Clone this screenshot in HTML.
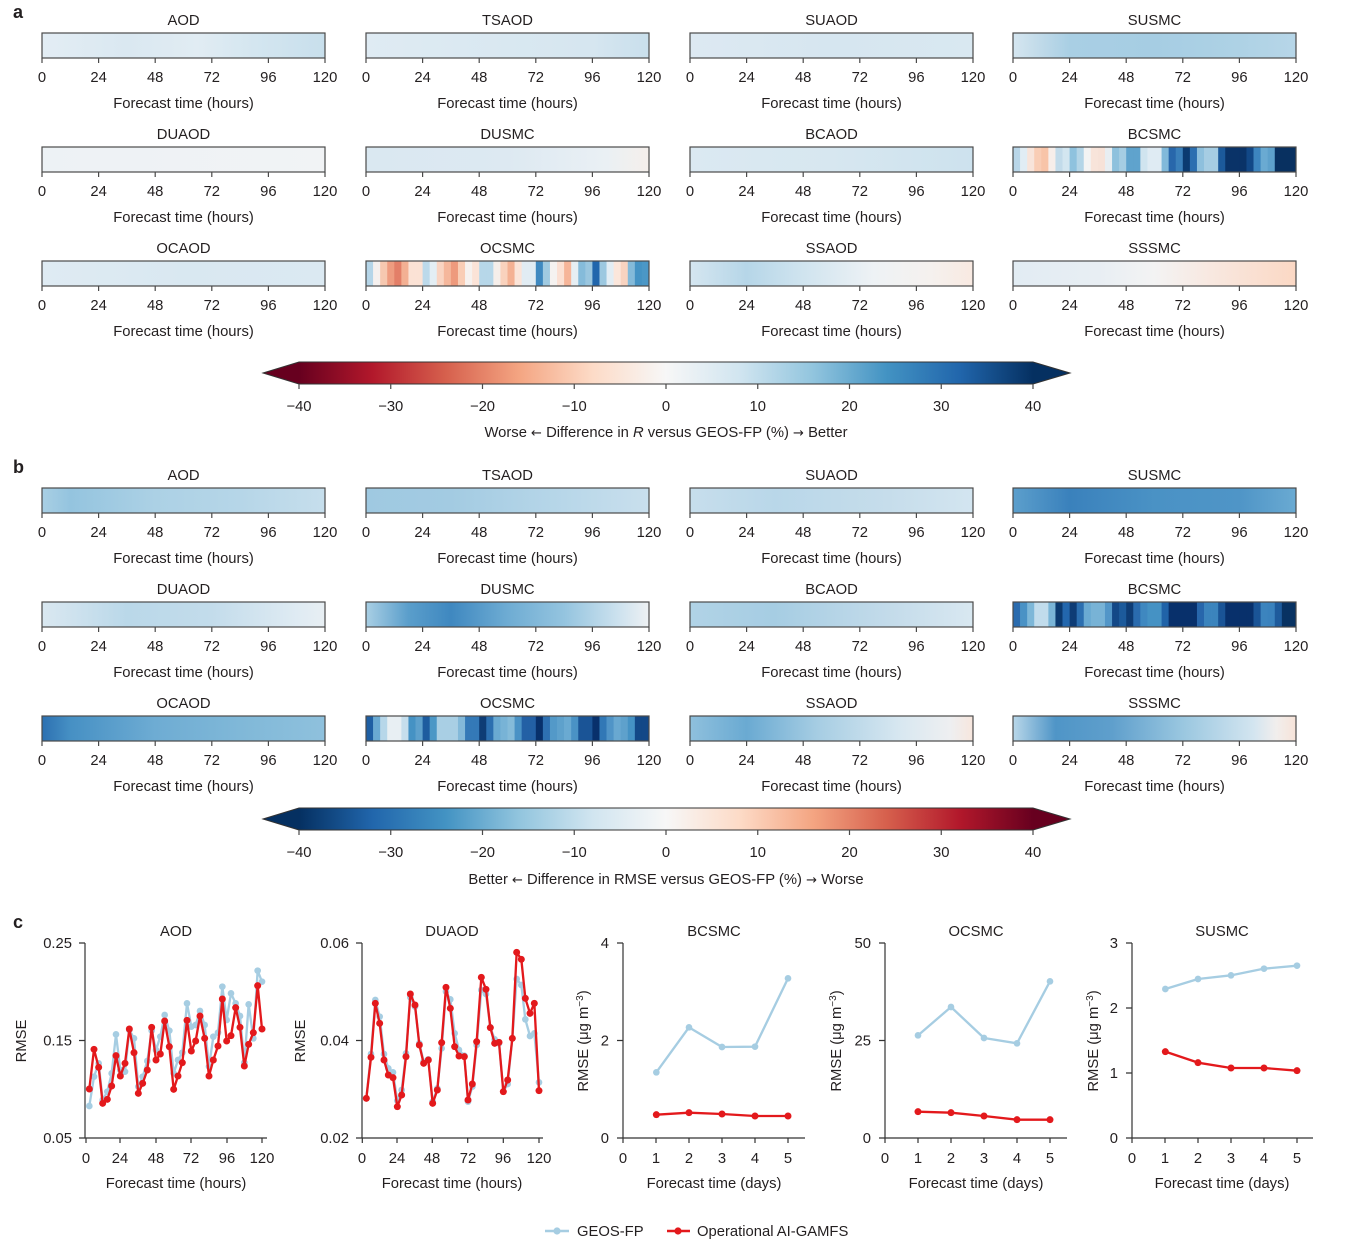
<!DOCTYPE html>
<html><head><meta charset="utf-8"><title>AI-GAMFS evaluation</title>
<style>
html,body{margin:0;padding:0;background:#fff;}
svg{display:block;}
text{font-family:"Liberation Sans",Arial,sans-serif;font-size:14.8px;fill:#231f20;}
.m{text-anchor:middle;}
.e{text-anchor:end;}
.ar{font-family:"DejaVu Sans",sans-serif;font-size:13px;}
.bx{fill:none;stroke:#4a4a4a;stroke-width:1.2;}
.tk{stroke:#4a4a4a;stroke-width:1.2;fill:none;}
.ax{stroke:#333;stroke-width:1.2;fill:none;}
.pl{font-weight:bold;font-size:18px;}
</style></head>
<body>
<svg width="1349" height="1253" viewBox="0 0 1349 1253" xmlns="http://www.w3.org/2000/svg">
<defs>
<linearGradient id="aAOD"><stop offset="0" stop-color="#e3edf4"/><stop offset="0.3" stop-color="#dae8f1"/><stop offset="0.55" stop-color="#e1ecf3"/><stop offset="0.75" stop-color="#d4e6f0"/><stop offset="1" stop-color="#c8dfec"/></linearGradient>
<linearGradient id="aTSAOD"><stop offset="0" stop-color="#dfebf3"/><stop offset="0.5" stop-color="#d9e8f1"/><stop offset="0.8" stop-color="#d6e6f0"/><stop offset="1" stop-color="#c9dfec"/></linearGradient>
<linearGradient id="aSUAOD"><stop offset="0" stop-color="#dde9f2"/><stop offset="0.5" stop-color="#d6e6f0"/><stop offset="1" stop-color="#d9e8f1"/></linearGradient>
<linearGradient id="aSUSMC"><stop offset="0" stop-color="#d5e6f0"/><stop offset="0.08" stop-color="#c4dcea"/><stop offset="0.2" stop-color="#a9cfe4"/><stop offset="0.5" stop-color="#a6cde3"/><stop offset="0.8" stop-color="#aed2e5"/><stop offset="1" stop-color="#b7d6e8"/></linearGradient>
<linearGradient id="aDUAOD"><stop offset="0" stop-color="#edf2f5"/><stop offset="1" stop-color="#f1f3f5"/></linearGradient>
<linearGradient id="aDUSMC"><stop offset="0" stop-color="#dae8f1"/><stop offset="0.5" stop-color="#dde9f2"/><stop offset="0.85" stop-color="#eaf0f4"/><stop offset="1" stop-color="#f5efeb"/></linearGradient>
<linearGradient id="aBCAOD"><stop offset="0" stop-color="#dbe9f2"/><stop offset="0.5" stop-color="#d7e7f0"/><stop offset="1" stop-color="#cde2ee"/></linearGradient>
<linearGradient id="aOCAOD"><stop offset="0" stop-color="#dfebf3"/><stop offset="0.5" stop-color="#d9e8f1"/><stop offset="1" stop-color="#dbe9f2"/></linearGradient>
<linearGradient id="aSSAOD"><stop offset="0" stop-color="#d5e6f0"/><stop offset="0.2" stop-color="#b6d6e8"/><stop offset="0.4" stop-color="#d0e4ef"/><stop offset="0.65" stop-color="#eef2f5"/><stop offset="0.85" stop-color="#f5f1ee"/><stop offset="1" stop-color="#f8e9e1"/></linearGradient>
<linearGradient id="aSSSMC"><stop offset="0" stop-color="#e2ecf3"/><stop offset="0.3" stop-color="#e8eef3"/><stop offset="0.5" stop-color="#f3f3f3"/><stop offset="0.7" stop-color="#f8e8e0"/><stop offset="1" stop-color="#fbd8c4"/></linearGradient>

<linearGradient id="bAOD"><stop offset="0" stop-color="#a9cfe4"/><stop offset="0.1" stop-color="#94c4df"/><stop offset="0.4" stop-color="#acd1e5"/><stop offset="0.7" stop-color="#b6d6e8"/><stop offset="1" stop-color="#c6deec"/></linearGradient>
<linearGradient id="bTSAOD"><stop offset="0" stop-color="#9fc9e1"/><stop offset="0.3" stop-color="#a3cbe2"/><stop offset="0.7" stop-color="#b8d7e9"/><stop offset="1" stop-color="#c9dfed"/></linearGradient>
<linearGradient id="bSUAOD"><stop offset="0" stop-color="#c7deec"/><stop offset="0.3" stop-color="#b9d7e9"/><stop offset="0.7" stop-color="#c6ddeb"/><stop offset="1" stop-color="#d3e5f0"/></linearGradient>
<linearGradient id="bSUSMC"><stop offset="0" stop-color="#5c9fcc"/><stop offset="0.2" stop-color="#3a81bc"/><stop offset="0.5" stop-color="#4a92c5"/><stop offset="0.8" stop-color="#4f95c7"/><stop offset="1" stop-color="#6aaad2"/></linearGradient>
<linearGradient id="bDUAOD"><stop offset="0" stop-color="#dae8f1"/><stop offset="0.3" stop-color="#bad8e9"/><stop offset="0.6" stop-color="#c3dceb"/><stop offset="0.9" stop-color="#dfebf3"/><stop offset="1" stop-color="#e8eff3"/></linearGradient>
<linearGradient id="bDUSMC"><stop offset="0" stop-color="#a9cfe4"/><stop offset="0.15" stop-color="#5a9ecb"/><stop offset="0.3" stop-color="#3f88c0"/><stop offset="0.5" stop-color="#6eacd3"/><stop offset="0.7" stop-color="#94c4df"/><stop offset="0.9" stop-color="#cfe3ef"/><stop offset="1" stop-color="#eef1f3"/></linearGradient>
<linearGradient id="bBCAOD"><stop offset="0" stop-color="#b1d3e6"/><stop offset="0.3" stop-color="#a6cde3"/><stop offset="0.7" stop-color="#c3dbea"/><stop offset="1" stop-color="#d9e8f1"/></linearGradient>
<linearGradient id="bOCAOD"><stop offset="0" stop-color="#2c70b1"/><stop offset="0.1" stop-color="#4690c4"/><stop offset="0.4" stop-color="#6eacd3"/><stop offset="0.7" stop-color="#80b8d8"/><stop offset="1" stop-color="#8fc1dd"/></linearGradient>
<linearGradient id="bSSAOD"><stop offset="0" stop-color="#8fc0dd"/><stop offset="0.2" stop-color="#6aaad2"/><stop offset="0.45" stop-color="#a6cde3"/><stop offset="0.75" stop-color="#d9e8f1"/><stop offset="0.92" stop-color="#eeeff1"/><stop offset="1" stop-color="#f7e6dd"/></linearGradient>
<linearGradient id="bSSSMC"><stop offset="0" stop-color="#b9d7e9"/><stop offset="0.15" stop-color="#4f95c7"/><stop offset="0.35" stop-color="#5f9fcc"/><stop offset="0.6" stop-color="#9ac7e0"/><stop offset="0.85" stop-color="#d3e5f0"/><stop offset="0.93" stop-color="#f1eeed"/><stop offset="1" stop-color="#f7e3d8"/></linearGradient>

<linearGradient id="cbA" gradientUnits="userSpaceOnUse" x1="299" y1="0" x2="1033" y2="0">
<stop offset="0" stop-color="#67001f"/><stop offset="0.1" stop-color="#b2182b"/><stop offset="0.2" stop-color="#d6604d"/><stop offset="0.3" stop-color="#f4a582"/><stop offset="0.4" stop-color="#fddbc7"/><stop offset="0.5" stop-color="#f7f7f7"/><stop offset="0.6" stop-color="#d1e5f0"/><stop offset="0.7" stop-color="#92c5de"/><stop offset="0.8" stop-color="#4393c3"/><stop offset="0.9" stop-color="#2166ac"/><stop offset="1" stop-color="#053061"/></linearGradient>
<linearGradient id="cbB" gradientUnits="userSpaceOnUse" x1="299" y1="0" x2="1033" y2="0">
<stop offset="0" stop-color="#053061"/><stop offset="0.1" stop-color="#2166ac"/><stop offset="0.2" stop-color="#4393c3"/><stop offset="0.3" stop-color="#92c5de"/><stop offset="0.4" stop-color="#d1e5f0"/><stop offset="0.5" stop-color="#f7f7f7"/><stop offset="0.6" stop-color="#fddbc7"/><stop offset="0.7" stop-color="#f4a582"/><stop offset="0.8" stop-color="#d6604d"/><stop offset="0.9" stop-color="#b2182b"/><stop offset="1" stop-color="#67001f"/></linearGradient>
</defs>

<rect width="1349" height="1253" fill="#fff"/>

<text x="13" y="18" class="pl">a</text>
<text x="13" y="473" class="pl">b</text>
<text x="13" y="928" class="pl">c</text>

<!-- ============ PANEL A ============ -->
<g transform="translate(42,33)"><rect width="283" height="25" fill="url(#aAOD)"/><rect width="283" height="25" class="bx"/><path class="tk" d="M0 25v5M56.6 25v5M113.2 25v5M169.8 25v5M226.4 25v5M283 25v5"/><text x="141.5" y="-8" class="m">AOD</text><text y="49" class="m"><tspan x="0">0</tspan><tspan x="56.6">24</tspan><tspan x="113.2">48</tspan><tspan x="169.8">72</tspan><tspan x="226.4">96</tspan><tspan x="283">120</tspan></text><text x="141.5" y="75" class="m">Forecast time (hours)</text></g>
<g transform="translate(366,33)"><rect width="283" height="25" fill="url(#aTSAOD)"/><rect width="283" height="25" class="bx"/><path class="tk" d="M0 25v5M56.6 25v5M113.2 25v5M169.8 25v5M226.4 25v5M283 25v5"/><text x="141.5" y="-8" class="m">TSAOD</text><text y="49" class="m"><tspan x="0">0</tspan><tspan x="56.6">24</tspan><tspan x="113.2">48</tspan><tspan x="169.8">72</tspan><tspan x="226.4">96</tspan><tspan x="283">120</tspan></text><text x="141.5" y="75" class="m">Forecast time (hours)</text></g>
<g transform="translate(690,33)"><rect width="283" height="25" fill="url(#aSUAOD)"/><rect width="283" height="25" class="bx"/><path class="tk" d="M0 25v5M56.6 25v5M113.2 25v5M169.8 25v5M226.4 25v5M283 25v5"/><text x="141.5" y="-8" class="m">SUAOD</text><text y="49" class="m"><tspan x="0">0</tspan><tspan x="56.6">24</tspan><tspan x="113.2">48</tspan><tspan x="169.8">72</tspan><tspan x="226.4">96</tspan><tspan x="283">120</tspan></text><text x="141.5" y="75" class="m">Forecast time (hours)</text></g>
<g transform="translate(1013,33)"><rect width="283" height="25" fill="url(#aSUSMC)"/><rect width="283" height="25" class="bx"/><path class="tk" d="M0 25v5M56.6 25v5M113.2 25v5M169.8 25v5M226.4 25v5M283 25v5"/><text x="141.5" y="-8" class="m">SUSMC</text><text y="49" class="m"><tspan x="0">0</tspan><tspan x="56.6">24</tspan><tspan x="113.2">48</tspan><tspan x="169.8">72</tspan><tspan x="226.4">96</tspan><tspan x="283">120</tspan></text><text x="141.5" y="75" class="m">Forecast time (hours)</text></g>

<g transform="translate(42,147)"><rect width="283" height="25" fill="url(#aDUAOD)"/><rect width="283" height="25" class="bx"/><path class="tk" d="M0 25v5M56.6 25v5M113.2 25v5M169.8 25v5M226.4 25v5M283 25v5"/><text x="141.5" y="-8" class="m">DUAOD</text><text y="49" class="m"><tspan x="0">0</tspan><tspan x="56.6">24</tspan><tspan x="113.2">48</tspan><tspan x="169.8">72</tspan><tspan x="226.4">96</tspan><tspan x="283">120</tspan></text><text x="141.5" y="75" class="m">Forecast time (hours)</text></g>
<g transform="translate(366,147)"><rect width="283" height="25" fill="url(#aDUSMC)"/><rect width="283" height="25" class="bx"/><path class="tk" d="M0 25v5M56.6 25v5M113.2 25v5M169.8 25v5M226.4 25v5M283 25v5"/><text x="141.5" y="-8" class="m">DUSMC</text><text y="49" class="m"><tspan x="0">0</tspan><tspan x="56.6">24</tspan><tspan x="113.2">48</tspan><tspan x="169.8">72</tspan><tspan x="226.4">96</tspan><tspan x="283">120</tspan></text><text x="141.5" y="75" class="m">Forecast time (hours)</text></g>
<g transform="translate(690,147)"><rect width="283" height="25" fill="url(#aBCAOD)"/><rect width="283" height="25" class="bx"/><path class="tk" d="M0 25v5M56.6 25v5M113.2 25v5M169.8 25v5M226.4 25v5M283 25v5"/><text x="141.5" y="-8" class="m">BCAOD</text><text y="49" class="m"><tspan x="0">0</tspan><tspan x="56.6">24</tspan><tspan x="113.2">48</tspan><tspan x="169.8">72</tspan><tspan x="226.4">96</tspan><tspan x="283">120</tspan></text><text x="141.5" y="75" class="m">Forecast time (hours)</text></g>
<g transform="translate(1013,147)">
<g transform="scale(7.075,1)">
<rect x="0" width="1.05" height="25" fill="#b9d6e8"/><rect x="1" width="1.05" height="25" fill="#e1edf4"/><rect x="2" width="1.05" height="25" fill="#f8e4da"/><rect x="3" width="1.05" height="25" fill="#f9cdb5"/><rect x="4" width="1.05" height="25" fill="#f8c4a8"/><rect x="5" width="1.05" height="25" fill="#f7eeea"/><rect x="6" width="1.05" height="25" fill="#c2dbea"/><rect x="7" width="1.05" height="25" fill="#d3e6f0"/><rect x="8" width="1.05" height="25" fill="#8fc2de"/><rect x="9" width="1.05" height="25" fill="#b4d5e7"/><rect x="10" width="1.05" height="25" fill="#f3f3f3"/><rect x="11" width="1.05" height="25" fill="#f8e4da"/><rect x="12" width="1.05" height="25" fill="#f7e2d8"/><rect x="13" width="1.05" height="25" fill="#e8eef2"/><rect x="14" width="1.05" height="25" fill="#8ec1dd"/><rect x="15" width="1.05" height="25" fill="#a5cde3"/><rect x="16" width="1.05" height="25" fill="#5fa3cd"/><rect x="17" width="1.05" height="25" fill="#5fa3cd"/><rect x="18" width="1.05" height="25" fill="#d0e4ef"/><rect x="19" width="1.05" height="25" fill="#dfebf3"/><rect x="20" width="1.05" height="25" fill="#dfebf3"/><rect x="21" width="1.05" height="25" fill="#81b9da"/><rect x="22" width="1.05" height="25" fill="#2867ab"/><rect x="23" width="1.05" height="25" fill="#3a7fba"/><rect x="24" width="1.05" height="25" fill="#0b3a70"/><rect x="25" width="1.05" height="25" fill="#2c6fb0"/><rect x="26" width="1.05" height="25" fill="#8ec0dd"/><rect x="27" width="1.05" height="25" fill="#a6cde3"/><rect x="28" width="1.05" height="25" fill="#a6cde3"/><rect x="29" width="1.05" height="25" fill="#1c5a9b"/><rect x="30" width="1.05" height="25" fill="#0a3368"/><rect x="31" width="1.05" height="25" fill="#0a3368"/><rect x="32" width="1.05" height="25" fill="#0a3368"/><rect x="33" width="1.05" height="25" fill="#124887"/><rect x="34" width="1.05" height="25" fill="#3d85bf"/><rect x="35" width="1.05" height="25" fill="#6aaad2"/><rect x="36" width="1.05" height="25" fill="#5ea1cc"/><rect x="37" width="1.05" height="25" fill="#083060"/><rect x="38" width="1.05" height="25" fill="#083060"/><rect x="39" width="1" height="25" fill="#083060"/>
</g>
<rect width="283" height="25" class="bx"/><path class="tk" d="M0 25v5M56.6 25v5M113.2 25v5M169.8 25v5M226.4 25v5M283 25v5"/><text x="141.5" y="-8" class="m">BCSMC</text><text y="49" class="m"><tspan x="0">0</tspan><tspan x="56.6">24</tspan><tspan x="113.2">48</tspan><tspan x="169.8">72</tspan><tspan x="226.4">96</tspan><tspan x="283">120</tspan></text><text x="141.5" y="75" class="m">Forecast time (hours)</text></g>

<g transform="translate(42,261)"><rect width="283" height="25" fill="url(#aOCAOD)"/><rect width="283" height="25" class="bx"/><path class="tk" d="M0 25v5M56.6 25v5M113.2 25v5M169.8 25v5M226.4 25v5M283 25v5"/><text x="141.5" y="-8" class="m">OCAOD</text><text y="49" class="m"><tspan x="0">0</tspan><tspan x="56.6">24</tspan><tspan x="113.2">48</tspan><tspan x="169.8">72</tspan><tspan x="226.4">96</tspan><tspan x="283">120</tspan></text><text x="141.5" y="75" class="m">Forecast time (hours)</text></g>
<g transform="translate(366,261)">
<g transform="scale(7.075,1)">
<rect x="0" width="1.05" height="25" fill="#b5d5e8"/><rect x="1" width="1.05" height="25" fill="#f5f0ee"/><rect x="2" width="1.05" height="25" fill="#f6c8b0"/><rect x="3" width="1.05" height="25" fill="#ee9c80"/><rect x="4" width="1.05" height="25" fill="#e37f68"/><rect x="5" width="1.05" height="25" fill="#f3b093"/><rect x="6" width="1.05" height="25" fill="#fbe2d5"/><rect x="7" width="1.05" height="25" fill="#fbe2d5"/><rect x="8" width="1.05" height="25" fill="#bcd9ea"/><rect x="9" width="1.05" height="25" fill="#e3eef4"/><rect x="10" width="1.05" height="25" fill="#f9d4c2"/><rect x="11" width="1.05" height="25" fill="#f5b79c"/><rect x="12" width="1.05" height="25" fill="#ee9a7d"/><rect x="13" width="1.05" height="25" fill="#f9cdb5"/><rect x="14" width="1.05" height="25" fill="#f6f1ee"/><rect x="15" width="1.05" height="25" fill="#fbe3d7"/><rect x="16" width="1.05" height="25" fill="#b7d7e9"/><rect x="17" width="1.05" height="25" fill="#b7d7e9"/><rect x="18" width="1.05" height="25" fill="#f5eeea"/><rect x="19" width="1.05" height="25" fill="#f9d2bd"/><rect x="20" width="1.05" height="25" fill="#f4b193"/><rect x="21" width="1.05" height="25" fill="#fbe4d8"/><rect x="22" width="1.05" height="25" fill="#e1ecf3"/><rect x="23" width="1.05" height="25" fill="#e1ecf3"/><rect x="24" width="1.05" height="25" fill="#3f89c0"/><rect x="25" width="1.05" height="25" fill="#a0cae1"/><rect x="26" width="1.05" height="25" fill="#f5f2f0"/><rect x="27" width="1.05" height="25" fill="#fbe0d3"/><rect x="28" width="1.05" height="25" fill="#f6b599"/><rect x="29" width="1.05" height="25" fill="#e6eef3"/><rect x="30" width="1.05" height="25" fill="#85bbda"/><rect x="31" width="1.05" height="25" fill="#9ac6df"/><rect x="32" width="1.05" height="25" fill="#2166ac"/><rect x="33" width="1.05" height="25" fill="#9cc8e0"/><rect x="34" width="1.05" height="25" fill="#e2edf4"/><rect x="35" width="1.05" height="25" fill="#fbe6db"/><rect x="36" width="1.05" height="25" fill="#f8d3c0"/><rect x="37" width="1.05" height="25" fill="#84bad9"/><rect x="38" width="1.05" height="25" fill="#4593c4"/><rect x="39" width="1" height="25" fill="#4b97c6"/>
</g>
<rect width="283" height="25" class="bx"/><path class="tk" d="M0 25v5M56.6 25v5M113.2 25v5M169.8 25v5M226.4 25v5M283 25v5"/><text x="141.5" y="-8" class="m">OCSMC</text><text y="49" class="m"><tspan x="0">0</tspan><tspan x="56.6">24</tspan><tspan x="113.2">48</tspan><tspan x="169.8">72</tspan><tspan x="226.4">96</tspan><tspan x="283">120</tspan></text><text x="141.5" y="75" class="m">Forecast time (hours)</text></g>
<g transform="translate(690,261)"><rect width="283" height="25" fill="url(#aSSAOD)"/><rect width="283" height="25" class="bx"/><path class="tk" d="M0 25v5M56.6 25v5M113.2 25v5M169.8 25v5M226.4 25v5M283 25v5"/><text x="141.5" y="-8" class="m">SSAOD</text><text y="49" class="m"><tspan x="0">0</tspan><tspan x="56.6">24</tspan><tspan x="113.2">48</tspan><tspan x="169.8">72</tspan><tspan x="226.4">96</tspan><tspan x="283">120</tspan></text><text x="141.5" y="75" class="m">Forecast time (hours)</text></g>
<g transform="translate(1013,261)"><rect width="283" height="25" fill="url(#aSSSMC)"/><rect width="283" height="25" class="bx"/><path class="tk" d="M0 25v5M56.6 25v5M113.2 25v5M169.8 25v5M226.4 25v5M283 25v5"/><text x="141.5" y="-8" class="m">SSSMC</text><text y="49" class="m"><tspan x="0">0</tspan><tspan x="56.6">24</tspan><tspan x="113.2">48</tspan><tspan x="169.8">72</tspan><tspan x="226.4">96</tspan><tspan x="283">120</tspan></text><text x="141.5" y="75" class="m">Forecast time (hours)</text></g>

<!-- colorbar A -->
<polygon points="263,373 299,362 1033,362 1070,373 1033,384 299,384" fill="url(#cbA)" stroke="#333" stroke-width="1"/>
<path class="tk" d="M299 384v5M390.75 384v5M482.5 384v5M574.25 384v5M666 384v5M757.75 384v5M849.5 384v5M941.25 384v5M1033 384v5"/>
<text y="411" class="m"><tspan x="299">−40</tspan><tspan x="390.75">−30</tspan><tspan x="482.5">−20</tspan><tspan x="574.25">−10</tspan><tspan x="666">0</tspan><tspan x="757.75">10</tspan><tspan x="849.5">20</tspan><tspan x="941.25">30</tspan><tspan x="1033">40</tspan></text>
<text x="666" y="437" class="m">Worse <tspan class="ar">←</tspan> Difference in <tspan font-style="italic">R</tspan> versus GEOS-FP (%) <tspan class="ar">→</tspan> Better</text>

<!-- ============ PANEL B ============ -->
<g transform="translate(42,488)"><rect width="283" height="25" fill="url(#bAOD)"/><rect width="283" height="25" class="bx"/><path class="tk" d="M0 25v5M56.6 25v5M113.2 25v5M169.8 25v5M226.4 25v5M283 25v5"/><text x="141.5" y="-8" class="m">AOD</text><text y="49" class="m"><tspan x="0">0</tspan><tspan x="56.6">24</tspan><tspan x="113.2">48</tspan><tspan x="169.8">72</tspan><tspan x="226.4">96</tspan><tspan x="283">120</tspan></text><text x="141.5" y="75" class="m">Forecast time (hours)</text></g>
<g transform="translate(366,488)"><rect width="283" height="25" fill="url(#bTSAOD)"/><rect width="283" height="25" class="bx"/><path class="tk" d="M0 25v5M56.6 25v5M113.2 25v5M169.8 25v5M226.4 25v5M283 25v5"/><text x="141.5" y="-8" class="m">TSAOD</text><text y="49" class="m"><tspan x="0">0</tspan><tspan x="56.6">24</tspan><tspan x="113.2">48</tspan><tspan x="169.8">72</tspan><tspan x="226.4">96</tspan><tspan x="283">120</tspan></text><text x="141.5" y="75" class="m">Forecast time (hours)</text></g>
<g transform="translate(690,488)"><rect width="283" height="25" fill="url(#bSUAOD)"/><rect width="283" height="25" class="bx"/><path class="tk" d="M0 25v5M56.6 25v5M113.2 25v5M169.8 25v5M226.4 25v5M283 25v5"/><text x="141.5" y="-8" class="m">SUAOD</text><text y="49" class="m"><tspan x="0">0</tspan><tspan x="56.6">24</tspan><tspan x="113.2">48</tspan><tspan x="169.8">72</tspan><tspan x="226.4">96</tspan><tspan x="283">120</tspan></text><text x="141.5" y="75" class="m">Forecast time (hours)</text></g>
<g transform="translate(1013,488)"><rect width="283" height="25" fill="url(#bSUSMC)"/><rect width="283" height="25" class="bx"/><path class="tk" d="M0 25v5M56.6 25v5M113.2 25v5M169.8 25v5M226.4 25v5M283 25v5"/><text x="141.5" y="-8" class="m">SUSMC</text><text y="49" class="m"><tspan x="0">0</tspan><tspan x="56.6">24</tspan><tspan x="113.2">48</tspan><tspan x="169.8">72</tspan><tspan x="226.4">96</tspan><tspan x="283">120</tspan></text><text x="141.5" y="75" class="m">Forecast time (hours)</text></g>

<g transform="translate(42,602)"><rect width="283" height="25" fill="url(#bDUAOD)"/><rect width="283" height="25" class="bx"/><path class="tk" d="M0 25v5M56.6 25v5M113.2 25v5M169.8 25v5M226.4 25v5M283 25v5"/><text x="141.5" y="-8" class="m">DUAOD</text><text y="49" class="m"><tspan x="0">0</tspan><tspan x="56.6">24</tspan><tspan x="113.2">48</tspan><tspan x="169.8">72</tspan><tspan x="226.4">96</tspan><tspan x="283">120</tspan></text><text x="141.5" y="75" class="m">Forecast time (hours)</text></g>
<g transform="translate(366,602)"><rect width="283" height="25" fill="url(#bDUSMC)"/><rect width="283" height="25" class="bx"/><path class="tk" d="M0 25v5M56.6 25v5M113.2 25v5M169.8 25v5M226.4 25v5M283 25v5"/><text x="141.5" y="-8" class="m">DUSMC</text><text y="49" class="m"><tspan x="0">0</tspan><tspan x="56.6">24</tspan><tspan x="113.2">48</tspan><tspan x="169.8">72</tspan><tspan x="226.4">96</tspan><tspan x="283">120</tspan></text><text x="141.5" y="75" class="m">Forecast time (hours)</text></g>
<g transform="translate(690,602)"><rect width="283" height="25" fill="url(#bBCAOD)"/><rect width="283" height="25" class="bx"/><path class="tk" d="M0 25v5M56.6 25v5M113.2 25v5M169.8 25v5M226.4 25v5M283 25v5"/><text x="141.5" y="-8" class="m">BCAOD</text><text y="49" class="m"><tspan x="0">0</tspan><tspan x="56.6">24</tspan><tspan x="113.2">48</tspan><tspan x="169.8">72</tspan><tspan x="226.4">96</tspan><tspan x="283">120</tspan></text><text x="141.5" y="75" class="m">Forecast time (hours)</text></g>
<g transform="translate(1013,602)">
<g transform="scale(7.075,1)">
<rect x="0" width="1.05" height="25" fill="#2a6bae"/><rect x="1" width="1.05" height="25" fill="#4a92c5"/><rect x="2" width="1.05" height="25" fill="#7db7d8"/><rect x="3" width="1.05" height="25" fill="#c1dcec"/><rect x="4" width="1.05" height="25" fill="#c1dcec"/><rect x="5" width="1.05" height="25" fill="#7ab5d7"/><rect x="6" width="1.05" height="25" fill="#0b3a70"/><rect x="7" width="1.05" height="25" fill="#2367ad"/><rect x="8" width="1.05" height="25" fill="#0e3c75"/><rect x="9" width="1.05" height="25" fill="#2c6fb0"/><rect x="10" width="1.05" height="25" fill="#6aaad2"/><rect x="11" width="1.05" height="25" fill="#78b3d6"/><rect x="12" width="1.05" height="25" fill="#78b3d6"/><rect x="13" width="1.05" height="25" fill="#5296c8"/><rect x="14" width="1.05" height="25" fill="#134887"/><rect x="15" width="1.05" height="25" fill="#1c5a9b"/><rect x="16" width="1.05" height="25" fill="#0e3c75"/><rect x="17" width="1.05" height="25" fill="#2a6bae"/><rect x="18" width="1.05" height="25" fill="#3f88c0"/><rect x="19" width="1.05" height="25" fill="#4592c4"/><rect x="20" width="1.05" height="25" fill="#4592c4"/><rect x="21" width="1.05" height="25" fill="#2063a8"/><rect x="22" width="1.05" height="25" fill="#08306b"/><rect x="23" width="1.05" height="25" fill="#08306b"/><rect x="24" width="1.05" height="25" fill="#08306b"/><rect x="25" width="1.05" height="25" fill="#08306b"/><rect x="26" width="1.05" height="25" fill="#2766ab"/><rect x="27" width="1.05" height="25" fill="#3b84bd"/><rect x="28" width="1.05" height="25" fill="#3b84bd"/><rect x="29" width="1.05" height="25" fill="#1a5496"/><rect x="30" width="1.05" height="25" fill="#08306b"/><rect x="31" width="1.05" height="25" fill="#08306b"/><rect x="32" width="1.05" height="25" fill="#08306b"/><rect x="33" width="1.05" height="25" fill="#08306b"/><rect x="34" width="1.05" height="25" fill="#1a5496"/><rect x="35" width="1.05" height="25" fill="#3c84be"/><rect x="36" width="1.05" height="25" fill="#3a82bd"/><rect x="37" width="1.05" height="25" fill="#1e5b9c"/><rect x="38" width="1.05" height="25" fill="#083262"/><rect x="39" width="1" height="25" fill="#083262"/>
</g>
<rect width="283" height="25" class="bx"/><path class="tk" d="M0 25v5M56.6 25v5M113.2 25v5M169.8 25v5M226.4 25v5M283 25v5"/><text x="141.5" y="-8" class="m">BCSMC</text><text y="49" class="m"><tspan x="0">0</tspan><tspan x="56.6">24</tspan><tspan x="113.2">48</tspan><tspan x="169.8">72</tspan><tspan x="226.4">96</tspan><tspan x="283">120</tspan></text><text x="141.5" y="75" class="m">Forecast time (hours)</text></g>

<g transform="translate(42,716)"><rect width="283" height="25" fill="url(#bOCAOD)"/><rect width="283" height="25" class="bx"/><path class="tk" d="M0 25v5M56.6 25v5M113.2 25v5M169.8 25v5M226.4 25v5M283 25v5"/><text x="141.5" y="-8" class="m">OCAOD</text><text y="49" class="m"><tspan x="0">0</tspan><tspan x="56.6">24</tspan><tspan x="113.2">48</tspan><tspan x="169.8">72</tspan><tspan x="226.4">96</tspan><tspan x="283">120</tspan></text><text x="141.5" y="75" class="m">Forecast time (hours)</text></g>
<g transform="translate(366,716)">
<g transform="scale(7.075,1)">
<rect x="0" width="1.05" height="25" fill="#1f5fa3"/><rect x="1" width="1.05" height="25" fill="#6aaad2"/><rect x="2" width="1.05" height="25" fill="#b7d7e9"/><rect x="3" width="1.05" height="25" fill="#e8eff3"/><rect x="4" width="1.05" height="25" fill="#e8eff3"/><rect x="5" width="1.05" height="25" fill="#c6deec"/><rect x="6" width="1.05" height="25" fill="#4592c4"/><rect x="7" width="1.05" height="25" fill="#5da0cc"/><rect x="8" width="1.05" height="25" fill="#1d5c9f"/><rect x="9" width="1.05" height="25" fill="#4b97c6"/><rect x="10" width="1.05" height="25" fill="#a9cfe4"/><rect x="11" width="1.05" height="25" fill="#a9cfe4"/><rect x="12" width="1.05" height="25" fill="#a9cfe4"/><rect x="13" width="1.05" height="25" fill="#83b9d9"/><rect x="14" width="1.05" height="25" fill="#3479b7"/><rect x="15" width="1.05" height="25" fill="#3479b7"/><rect x="16" width="1.05" height="25" fill="#0e3c75"/><rect x="17" width="1.05" height="25" fill="#2c6fb0"/><rect x="18" width="1.05" height="25" fill="#6aaad2"/><rect x="19" width="1.05" height="25" fill="#78b3d6"/><rect x="20" width="1.05" height="25" fill="#85bbd9"/><rect x="21" width="1.05" height="25" fill="#4a92c5"/><rect x="22" width="1.05" height="25" fill="#2360a5"/><rect x="23" width="1.05" height="25" fill="#2360a5"/><rect x="24" width="1.05" height="25" fill="#08306b"/><rect x="25" width="1.05" height="25" fill="#2e70b1"/><rect x="26" width="1.05" height="25" fill="#5399c8"/><rect x="27" width="1.05" height="25" fill="#5ea1cc"/><rect x="28" width="1.05" height="25" fill="#6aaad2"/><rect x="29" width="1.05" height="25" fill="#4a92c5"/><rect x="30" width="1.05" height="25" fill="#1a5496"/><rect x="31" width="1.05" height="25" fill="#1a5496"/><rect x="32" width="1.05" height="25" fill="#08306b"/><rect x="33" width="1.05" height="25" fill="#3178b6"/><rect x="34" width="1.05" height="25" fill="#5094c7"/><rect x="35" width="1.05" height="25" fill="#69a8d1"/><rect x="36" width="1.05" height="25" fill="#5ea1cc"/><rect x="37" width="1.05" height="25" fill="#4592c4"/><rect x="38" width="1.05" height="25" fill="#134887"/><rect x="39" width="1" height="25" fill="#134887"/>
</g>
<rect width="283" height="25" class="bx"/><path class="tk" d="M0 25v5M56.6 25v5M113.2 25v5M169.8 25v5M226.4 25v5M283 25v5"/><text x="141.5" y="-8" class="m">OCSMC</text><text y="49" class="m"><tspan x="0">0</tspan><tspan x="56.6">24</tspan><tspan x="113.2">48</tspan><tspan x="169.8">72</tspan><tspan x="226.4">96</tspan><tspan x="283">120</tspan></text><text x="141.5" y="75" class="m">Forecast time (hours)</text></g>
<g transform="translate(690,716)"><rect width="283" height="25" fill="url(#bSSAOD)"/><rect width="283" height="25" class="bx"/><path class="tk" d="M0 25v5M56.6 25v5M113.2 25v5M169.8 25v5M226.4 25v5M283 25v5"/><text x="141.5" y="-8" class="m">SSAOD</text><text y="49" class="m"><tspan x="0">0</tspan><tspan x="56.6">24</tspan><tspan x="113.2">48</tspan><tspan x="169.8">72</tspan><tspan x="226.4">96</tspan><tspan x="283">120</tspan></text><text x="141.5" y="75" class="m">Forecast time (hours)</text></g>
<g transform="translate(1013,716)"><rect width="283" height="25" fill="url(#bSSSMC)"/><rect width="283" height="25" class="bx"/><path class="tk" d="M0 25v5M56.6 25v5M113.2 25v5M169.8 25v5M226.4 25v5M283 25v5"/><text x="141.5" y="-8" class="m">SSSMC</text><text y="49" class="m"><tspan x="0">0</tspan><tspan x="56.6">24</tspan><tspan x="113.2">48</tspan><tspan x="169.8">72</tspan><tspan x="226.4">96</tspan><tspan x="283">120</tspan></text><text x="141.5" y="75" class="m">Forecast time (hours)</text></g>

<!-- colorbar B -->
<polygon points="263,819 299,808 1033,808 1070,819 1033,830 299,830" fill="url(#cbB)" stroke="#333" stroke-width="1"/>
<path class="tk" d="M299 830v5M390.75 830v5M482.5 830v5M574.25 830v5M666 830v5M757.75 830v5M849.5 830v5M941.25 830v5M1033 830v5"/>
<text y="857" class="m"><tspan x="299">−40</tspan><tspan x="390.75">−30</tspan><tspan x="482.5">−20</tspan><tspan x="574.25">−10</tspan><tspan x="666">0</tspan><tspan x="757.75">10</tspan><tspan x="849.5">20</tspan><tspan x="941.25">30</tspan><tspan x="1033">40</tspan></text>
<text x="666" y="884" class="m">Better <tspan class="ar">←</tspan> Difference in RMSE versus GEOS-FP (%) <tspan class="ar">→</tspan> Worse</text>

<!-- ============ PANEL C ============ -->
<text x="176" y="936" class="m">AOD</text>
<path class="ax" d="M85 943V1138H267M79 943H85M79 1040.5H85M79 1138H85M86 1138v5M120 1138v5M156 1138v5M191 1138v5M227 1138v5M262 1138v5"/>
<text class="e"><tspan x="72" y="948">0.25</tspan><tspan x="72" y="1045.5">0.15</tspan><tspan x="72" y="1143">0.05</tspan></text>
<text y="1163" class="m"><tspan x="86">0</tspan><tspan x="120">24</tspan><tspan x="156">48</tspan><tspan x="191">72</tspan><tspan x="227">96</tspan><tspan x="262">120</tspan></text>
<text x="176" y="1188" class="m">Forecast time (hours)</text>
<text transform="translate(26,1041) rotate(-90)" class="m">RMSE</text>
<g transform="translate(0,910) scale(0.33333)">
<g stroke="#a6cde2" fill="#a6cde2">
<polyline fill="none" stroke-width="7" stroke-linejoin="round" points="268,588 282,500 296,460 308,570 322,545 335,490 348,373 361,480 375,485 388,360 402,385 415,530 428,500 442,453 455,362 468,420 481,380 494,315 508,362 521,490 534,450 547,428 561,280 574,350 587,345 600,303 614,345 627,470 640,380 654,368 667,230 680,330 693,250 707,280 720,318 733,458 746,283 760,385 773,182 786,215"/>
<g stroke="none"><circle cx="268" cy="588" r="10"/><circle cx="282" cy="500" r="10"/><circle cx="296" cy="460" r="10"/><circle cx="308" cy="570" r="10"/><circle cx="322" cy="545" r="10"/><circle cx="335" cy="490" r="10"/><circle cx="348" cy="373" r="10"/><circle cx="361" cy="480" r="10"/><circle cx="375" cy="485" r="10"/><circle cx="388" cy="360" r="10"/><circle cx="402" cy="385" r="10"/><circle cx="415" cy="530" r="10"/><circle cx="428" cy="500" r="10"/><circle cx="442" cy="453" r="10"/><circle cx="455" cy="362" r="10"/><circle cx="468" cy="420" r="10"/><circle cx="481" cy="380" r="10"/><circle cx="494" cy="315" r="10"/><circle cx="508" cy="362" r="10"/><circle cx="521" cy="490" r="10"/><circle cx="534" cy="450" r="10"/><circle cx="547" cy="428" r="10"/><circle cx="561" cy="280" r="10"/><circle cx="574" cy="350" r="10"/><circle cx="587" cy="345" r="10"/><circle cx="600" cy="303" r="10"/><circle cx="614" cy="345" r="10"/><circle cx="627" cy="470" r="10"/><circle cx="640" cy="380" r="10"/><circle cx="654" cy="368" r="10"/><circle cx="667" cy="230" r="10"/><circle cx="680" cy="330" r="10"/><circle cx="693" cy="250" r="10"/><circle cx="707" cy="280" r="10"/><circle cx="720" cy="318" r="10"/><circle cx="733" cy="458" r="10"/><circle cx="746" cy="283" r="10"/><circle cx="760" cy="385" r="10"/><circle cx="773" cy="182" r="10"/><circle cx="786" cy="215" r="10"/></g>
</g>
<g stroke="#e3191c" fill="#e3191c">
<polyline fill="none" stroke-width="7" stroke-linejoin="round" points="268,537 282,418 296,472 308,580 322,568 335,528 348,437 361,498 375,460 388,357 402,428 415,550 428,520 442,480 455,352 468,450 481,432 494,333 508,410 521,538 534,498 547,458 561,331 574,423 587,393 600,318 614,385 627,498 640,450 654,408 667,267 680,393 693,377 707,293 720,352 733,468 746,403 760,368 773,227 786,357"/>
<g stroke="none"><circle cx="268" cy="537" r="10.5"/><circle cx="282" cy="418" r="10.5"/><circle cx="296" cy="472" r="10.5"/><circle cx="308" cy="580" r="10.5"/><circle cx="322" cy="568" r="10.5"/><circle cx="335" cy="528" r="10.5"/><circle cx="348" cy="437" r="10.5"/><circle cx="361" cy="498" r="10.5"/><circle cx="375" cy="460" r="10.5"/><circle cx="388" cy="357" r="10.5"/><circle cx="402" cy="428" r="10.5"/><circle cx="415" cy="550" r="10.5"/><circle cx="428" cy="520" r="10.5"/><circle cx="442" cy="480" r="10.5"/><circle cx="455" cy="352" r="10.5"/><circle cx="468" cy="450" r="10.5"/><circle cx="481" cy="432" r="10.5"/><circle cx="494" cy="333" r="10.5"/><circle cx="508" cy="410" r="10.5"/><circle cx="521" cy="538" r="10.5"/><circle cx="534" cy="498" r="10.5"/><circle cx="547" cy="458" r="10.5"/><circle cx="561" cy="331" r="10.5"/><circle cx="574" cy="423" r="10.5"/><circle cx="587" cy="393" r="10.5"/><circle cx="600" cy="318" r="10.5"/><circle cx="614" cy="385" r="10.5"/><circle cx="627" cy="498" r="10.5"/><circle cx="640" cy="450" r="10.5"/><circle cx="654" cy="408" r="10.5"/><circle cx="667" cy="267" r="10.5"/><circle cx="680" cy="393" r="10.5"/><circle cx="693" cy="377" r="10.5"/><circle cx="707" cy="293" r="10.5"/><circle cx="720" cy="352" r="10.5"/><circle cx="733" cy="468" r="10.5"/><circle cx="746" cy="403" r="10.5"/><circle cx="760" cy="368" r="10.5"/><circle cx="773" cy="227" r="10.5"/><circle cx="786" cy="357" r="10.5"/></g>
</g>
</g>

<text x="452" y="936" class="m">DUAOD</text>
<path class="ax" d="M362 943V1138H543M356 943H362M356 1040.5H362M356 1138H362M362.3 1138v5M397 1138v5M432.3 1138v5M467.7 1138v5M503.3 1138v5M539 1138v5"/>
<text class="e"><tspan x="349" y="948">0.06</tspan><tspan x="349" y="1045.5">0.04</tspan><tspan x="349" y="1143">0.02</tspan></text>
<text y="1163" class="m"><tspan x="362">0</tspan><tspan x="397">24</tspan><tspan x="432">48</tspan><tspan x="468">72</tspan><tspan x="503">96</tspan><tspan x="539">120</tspan></text>
<text x="452" y="1188" class="m">Forecast time (hours)</text>
<text transform="translate(305,1041) rotate(-90)" class="m">RMSE</text>
<g transform="translate(285,910) scale(0.33333)">
<g stroke="#a6cde2" fill="#a6cde2">
<polyline fill="none" stroke-width="7" stroke-linejoin="round" points="244,565 258,432 271,270 284,320 297,432 310,475 324,487 337,572 350,540 363,430 376,262 390,290 403,400 416,455 430,448 443,575 457,535 470,415 483,245 496,268 509,370 522,420 538,437 549,575 562,530 575,405 589,240 603,252 616,352 629,388 642,400 655,545 668,522 682,385 695,207 709,225 721,328 735,378 748,370 762,517"/>
<g stroke="none"><circle cx="244" cy="565" r="10"/><circle cx="258" cy="432" r="10"/><circle cx="271" cy="270" r="10"/><circle cx="284" cy="320" r="10"/><circle cx="297" cy="432" r="10"/><circle cx="310" cy="475" r="10"/><circle cx="324" cy="487" r="10"/><circle cx="337" cy="572" r="10"/><circle cx="350" cy="540" r="10"/><circle cx="363" cy="430" r="10"/><circle cx="376" cy="262" r="10"/><circle cx="390" cy="290" r="10"/><circle cx="403" cy="400" r="10"/><circle cx="416" cy="455" r="10"/><circle cx="430" cy="448" r="10"/><circle cx="443" cy="575" r="10"/><circle cx="457" cy="535" r="10"/><circle cx="470" cy="415" r="10"/><circle cx="483" cy="245" r="10"/><circle cx="496" cy="268" r="10"/><circle cx="509" cy="370" r="10"/><circle cx="522" cy="420" r="10"/><circle cx="538" cy="437" r="10"/><circle cx="549" cy="575" r="10"/><circle cx="562" cy="530" r="10"/><circle cx="575" cy="405" r="10"/><circle cx="589" cy="240" r="10"/><circle cx="603" cy="252" r="10"/><circle cx="616" cy="352" r="10"/><circle cx="629" cy="388" r="10"/><circle cx="642" cy="400" r="10"/><circle cx="655" cy="545" r="10"/><circle cx="668" cy="522" r="10"/><circle cx="682" cy="385" r="10"/><circle cx="695" cy="207" r="10"/><circle cx="709" cy="225" r="10"/><circle cx="721" cy="328" r="10"/><circle cx="735" cy="378" r="10"/><circle cx="748" cy="370" r="10"/><circle cx="762" cy="517" r="10"/></g>
</g>
<g stroke="#e3191c" fill="#e3191c">
<polyline fill="none" stroke-width="7" stroke-linejoin="round" points="244,565 258,442 271,280 284,340 297,450 310,495 324,503 337,590 350,555 363,440 376,252 390,285 403,405 416,460 430,450 443,580 457,540 470,398 483,232 496,295 509,410 522,438 538,440 549,570 562,522 575,395 589,202 603,238 616,353 629,400 642,397 655,545 668,510 682,385 695,127 709,148 721,265 735,310 748,280 762,542"/>
<g stroke="none"><circle cx="244" cy="565" r="10.5"/><circle cx="258" cy="442" r="10.5"/><circle cx="271" cy="280" r="10.5"/><circle cx="284" cy="340" r="10.5"/><circle cx="297" cy="450" r="10.5"/><circle cx="310" cy="495" r="10.5"/><circle cx="324" cy="503" r="10.5"/><circle cx="337" cy="590" r="10.5"/><circle cx="350" cy="555" r="10.5"/><circle cx="363" cy="440" r="10.5"/><circle cx="376" cy="252" r="10.5"/><circle cx="390" cy="285" r="10.5"/><circle cx="403" cy="405" r="10.5"/><circle cx="416" cy="460" r="10.5"/><circle cx="430" cy="450" r="10.5"/><circle cx="443" cy="580" r="10.5"/><circle cx="457" cy="540" r="10.5"/><circle cx="470" cy="398" r="10.5"/><circle cx="483" cy="232" r="10.5"/><circle cx="496" cy="295" r="10.5"/><circle cx="509" cy="410" r="10.5"/><circle cx="522" cy="438" r="10.5"/><circle cx="538" cy="440" r="10.5"/><circle cx="549" cy="570" r="10.5"/><circle cx="562" cy="522" r="10.5"/><circle cx="575" cy="395" r="10.5"/><circle cx="589" cy="202" r="10.5"/><circle cx="603" cy="238" r="10.5"/><circle cx="616" cy="353" r="10.5"/><circle cx="629" cy="400" r="10.5"/><circle cx="642" cy="397" r="10.5"/><circle cx="655" cy="545" r="10.5"/><circle cx="668" cy="510" r="10.5"/><circle cx="682" cy="385" r="10.5"/><circle cx="695" cy="127" r="10.5"/><circle cx="709" cy="148" r="10.5"/><circle cx="721" cy="265" r="10.5"/><circle cx="735" cy="310" r="10.5"/><circle cx="748" cy="280" r="10.5"/><circle cx="762" cy="542" r="10.5"/></g>
</g>
</g>

<text x="714" y="936" class="m">BCSMC</text>
<path class="ax" d="M623 943V1138H805M617 943H623M617 1040.5H623M617 1138H623M623 1138v5M656 1138v5M689 1138v5M722 1138v5M755 1138v5M788 1138v5"/>
<text class="e"><tspan x="609" y="948">4</tspan><tspan x="609" y="1045.5">2</tspan><tspan x="609" y="1143">0</tspan></text>
<text y="1163" class="m"><tspan x="623">0</tspan><tspan x="656">1</tspan><tspan x="689">2</tspan><tspan x="722">3</tspan><tspan x="755">4</tspan><tspan x="788">5</tspan></text>
<text x="714" y="1188" class="m">Forecast time (days)</text>
<text transform="translate(588,1041) rotate(-90)" class="m">RMSE (μg m<tspan dy="-5" font-size="10">−3</tspan><tspan dy="5">)</tspan></text>

<text x="976" y="936" class="m">OCSMC</text>
<path class="ax" d="M885 943V1138H1067M879 943H885M879 1040.5H885M879 1138H885M885 1138v5M918 1138v5M951 1138v5M984 1138v5M1017 1138v5M1050 1138v5"/>
<text class="e"><tspan x="871" y="948">50</tspan><tspan x="871" y="1045.5">25</tspan><tspan x="871" y="1143">0</tspan></text>
<text y="1163" class="m"><tspan x="885">0</tspan><tspan x="918">1</tspan><tspan x="951">2</tspan><tspan x="984">3</tspan><tspan x="1017">4</tspan><tspan x="1050">5</tspan></text>
<text x="976" y="1188" class="m">Forecast time (days)</text>
<text transform="translate(841,1041) rotate(-90)" class="m">RMSE (μg m<tspan dy="-5" font-size="10">−3</tspan><tspan dy="5">)</tspan></text>
<g transform="translate(560,910) scale(0.33333)">
<g stroke="#a6cde2" fill="#a6cde2">
<polyline fill="none" stroke-width="7" stroke-linejoin="round" points="289,487 387,352 486,411 585,410 684,205"/>
<polyline fill="none" stroke-width="7" stroke-linejoin="round" points="1074,376 1173,291 1272,384 1371,400 1470,214"/>
<g stroke="none"><circle cx="289" cy="487" r="10"/><circle cx="387" cy="352" r="10"/><circle cx="486" cy="411" r="10"/><circle cx="585" cy="410" r="10"/><circle cx="684" cy="205" r="10"/><circle cx="1074" cy="376" r="10"/><circle cx="1173" cy="291" r="10"/><circle cx="1272" cy="384" r="10"/><circle cx="1371" cy="400" r="10"/><circle cx="1470" cy="214" r="10"/></g>
</g>
<g stroke="#e3191c" fill="#e3191c">
<polyline fill="none" stroke-width="7" stroke-linejoin="round" points="289,614 387,608 486,612 585,618 684,618"/>
<polyline fill="none" stroke-width="7" stroke-linejoin="round" points="1074,605 1173,608 1272,618 1371,629 1470,629"/>
<g stroke="none"><circle cx="289" cy="614" r="10.5"/><circle cx="387" cy="608" r="10.5"/><circle cx="486" cy="612" r="10.5"/><circle cx="585" cy="618" r="10.5"/><circle cx="684" cy="618" r="10.5"/><circle cx="1074" cy="605" r="10.5"/><circle cx="1173" cy="608" r="10.5"/><circle cx="1272" cy="618" r="10.5"/><circle cx="1371" cy="629" r="10.5"/><circle cx="1470" cy="629" r="10.5"/></g>
</g>
</g>

<text x="1222" y="936" class="m">SUSMC</text>
<path class="ax" d="M1132 943V1138H1313M1126 943H1132M1126 1008H1132M1126 1073H1132M1126 1138H1132M1132 1138v5M1165 1138v5M1198 1138v5M1231 1138v5M1264 1138v5M1297 1138v5"/>
<text class="e"><tspan x="1118" y="948">3</tspan><tspan x="1118" y="1013">2</tspan><tspan x="1118" y="1078">1</tspan><tspan x="1118" y="1143">0</tspan></text>
<text y="1163" class="m"><tspan x="1132">0</tspan><tspan x="1165">1</tspan><tspan x="1198">2</tspan><tspan x="1231">3</tspan><tspan x="1264">4</tspan><tspan x="1297">5</tspan></text>
<text x="1222" y="1188" class="m">Forecast time (days)</text>
<text transform="translate(1098,1041) rotate(-90)" class="m">RMSE (μg m<tspan dy="-5" font-size="10">−3</tspan><tspan dy="5">)</tspan></text>
<g transform="translate(1070,910) scale(0.33333)">
<g stroke="#a6cde2" fill="#a6cde2">
<polyline fill="none" stroke-width="7" stroke-linejoin="round" points="286,237 384,207 483,196 582,176 681,167"/>
<g stroke="none"><circle cx="286" cy="237" r="10"/><circle cx="384" cy="207" r="10"/><circle cx="483" cy="196" r="10"/><circle cx="582" cy="176" r="10"/><circle cx="681" cy="167" r="10"/></g>
</g>
<g stroke="#e3191c" fill="#e3191c">
<polyline fill="none" stroke-width="7" stroke-linejoin="round" points="286,425 384,458 483,474 582,474 681,482"/>
<g stroke="none"><circle cx="286" cy="425" r="10.5"/><circle cx="384" cy="458" r="10.5"/><circle cx="483" cy="474" r="10.5"/><circle cx="582" cy="474" r="10.5"/><circle cx="681" cy="482" r="10.5"/></g>
</g>
</g>

<line x1="545" y1="1231" x2="569" y2="1231" stroke="#a6cde2" stroke-width="2.4"/>
<circle cx="557" cy="1231" r="3.6" fill="#a6cde2"/>
<text x="577" y="1236">GEOS-FP</text>
<line x1="667" y1="1231" x2="690" y2="1231" stroke="#e3191c" stroke-width="2.4"/>
<circle cx="678" cy="1231" r="3.6" fill="#e3191c"/>
<text x="697" y="1236">Operational AI-GAMFS</text>
</svg>
</body></html>
